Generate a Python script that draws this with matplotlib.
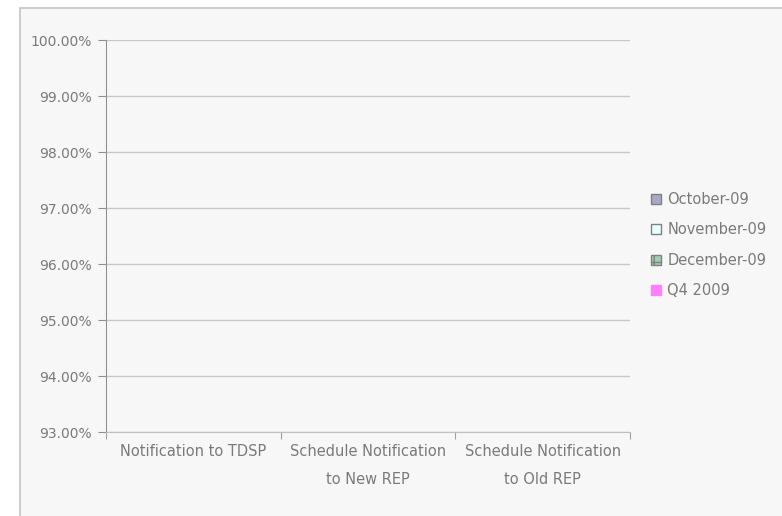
import numpy as np
import matplotlib.pyplot as plt
from matplotlib.patches import Rectangle

plt.rcParams['font.family'] = ['DejaVu Sans']

categories = ['Notification to TDSP',
              'Schedule Notification\nto New REP',
              'Schedule Notification\nto Old REP']
series_names = ['October-09', 'November-09', 'December-09', 'Q4 2009']
# no reported values for the quarter
october = [np.nan, np.nan, np.nan]
november = [np.nan, np.nan, np.nan]
december = [np.nan, np.nan, np.nan]
q4_2009 = [np.nan, np.nan, np.nan]
y_ticks = [93, 94, 95, 96, 97, 98, 99, 100]

series = [october, november, december, q4_2009]
face = ['#a8a8c8', '#e8ffff', '#a0d0b0', '#ff80ff']
edge = ['#808080', '#808080', '#808080', '#ff80ff']
hatch = [None, None, '++', None]

fig = plt.figure(figsize=(7.82, 5.16), dpi=100)
fig.patch.set_facecolor('white')

# grey panel behind the chart
panel = Rectangle((20 / 782, -0.01), 1.0, 1 - 8 / 516 + 0.01, transform=fig.transFigure,
                  facecolor='#f7f7f7', edgecolor='#c4c4c4', linewidth=1.2, zorder=-5)
fig.patches.append(panel)

ax = fig.add_axes([106 / 782, 1 - 432 / 516, (630 - 106) / 782, (432 - 40) / 516])
ax.set_facecolor('none')
ax.set_zorder(2)

x = np.arange(len(categories))
w = 0.2
bars = []
for i, vals in enumerate(series):
    b = ax.bar(x + (i - 1.5) * w, vals, w, color=face[i], edgecolor=edge[i],
               hatch=hatch[i], linewidth=1, label=series_names[i])
    bars.append(b)

ax.set_xlim(-0.5, len(categories) - 0.5)
ax.set_ylim(93, 100)
ax.set_yticks(y_ticks)
ax.set_yticklabels(['%.2f%%' % v for v in y_ticks])
ax.set_xticks(np.arange(len(categories) + 1) - 0.5)
ax.set_xticklabels([])
ax.set_xticks(x, minor=True)
ax.set_xticklabels(categories, minor=True, linespacing=2.0)
ax.tick_params(axis='x', which='minor', length=0, pad=9, labelsize=10.5)
ax.tick_params(axis='x', which='major', length=5, color='#a0a0a0')
ax.tick_params(axis='y', length=6, color='#909090', pad=4, labelsize=10)
ax.tick_params(which='both', labelcolor='#7a7a7a')

ax.grid(axis='y', color='#c8c8c8', linewidth=1)
ax.set_axisbelow(True)
for s in ['top', 'right']:
    ax.spines[s].set_visible(False)
ax.spines['left'].set_color('#909090')
ax.spines['bottom'].set_color('#c0c0c0')

leg = fig.legend(handles=bars, loc='center left', bbox_to_anchor=(0.816, 0.525),
                 frameon=False, fontsize=10.5, labelcolor='#7a7a7a',
                 handlelength=0.65, handleheight=0.65, handletextpad=0.45,
                 labelspacing=1.05)

fig.savefig('out.png', dpi=100, facecolor='white')
